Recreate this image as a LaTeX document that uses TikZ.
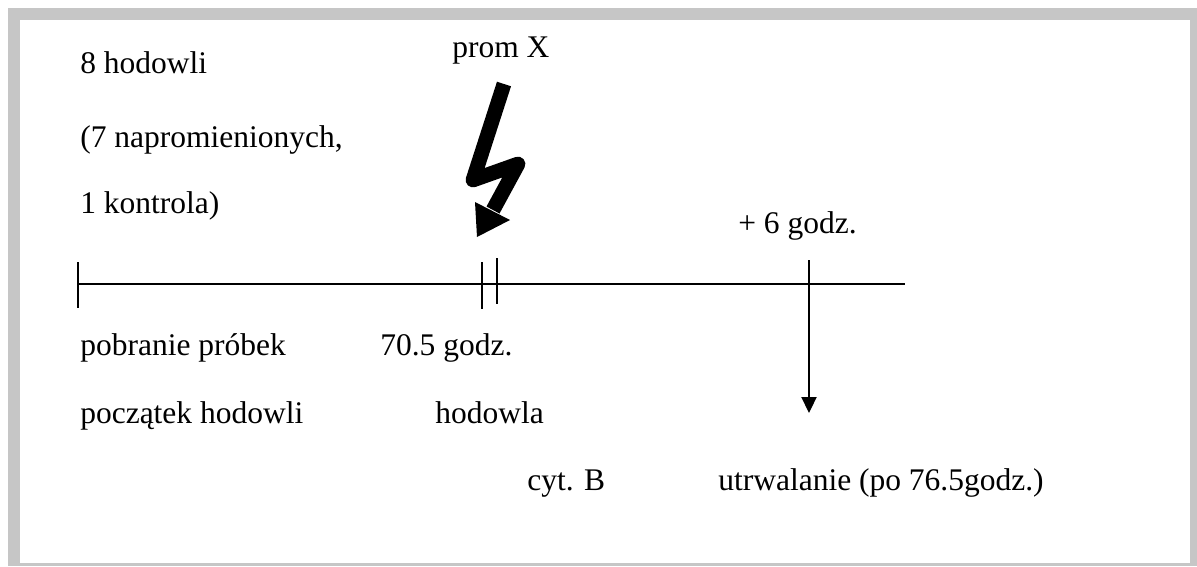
\documentclass[tikz,border=0pt]{standalone}
\usepackage{fontspec}
\setmainfont{Liberation Serif}
\usepackage{tikz}
\usetikzlibrary{arrows.meta}

\begin{document}
\begin{tikzpicture}[
  x=0.025cm, y=-0.025cm,
  lbl/.style={anchor=base west, inner sep=0pt, font=\fontsize{22.4}{27}\selectfont},
  tick/.style={line width=0.9pt},
  arrow/.style={-{Triangle[length=4mm, width=3.8mm]}, line width=1pt},
  bolt/.style={line width=10.5pt, line join=round}
]
\useasboundingbox (0,0) rectangle (1197,566);
% frame
\fill[gray!45] (8,8) rectangle (1197,566);
\fill[white] (20,20) rectangle (1190,563);

% left texts
\node[lbl] (n8) at (80,73) {8 hodowli};
\node[lbl] (n7) at (80,147) {(7 napromienionych,};
\node[lbl] (n1) at (80,213) {1 kontrola)};
\node[lbl] (prom) at (452,57) {prom X};
\node[lbl] (plus) at (738,233) {+ 6 godz.};

% time axis
\coordinate (t0) at (78,284);
\coordinate (tend) at (905,284);
\draw[tick] (t0) -- (tend);
\draw[tick] (78,262) -- (78,308);
\draw[tick] (482,262) -- (482,309);
\draw[tick] (497,258) -- (497,304);

% irradiation bolt
\draw[bolt] (504,84) -- (473,180) -- (518,164) -- (493,210);
\fill (475,202) -- (510,220) -- (477,237) -- cycle;

% fixation
\coordinate (g6) at (809,260);
\coordinate (fix) at (809,413);
\draw[arrow] (g6) -- (fix);

% lower texts
\node[lbl] (pob) at (80,355) {pobranie próbek};
\node[lbl] (t705) at (380,355) {70.5 godz.};
\node[lbl] (pocz) at (80,423) {początek hodowli};
\node[lbl] (hod) at (435,423) {hodowla};
\node[lbl] (cyt) at (527,490) {cyt. B};
\node[lbl] (utr) at (718,490) {utrwalanie (po 76.5godz.)};
\end{tikzpicture}
\end{document}
